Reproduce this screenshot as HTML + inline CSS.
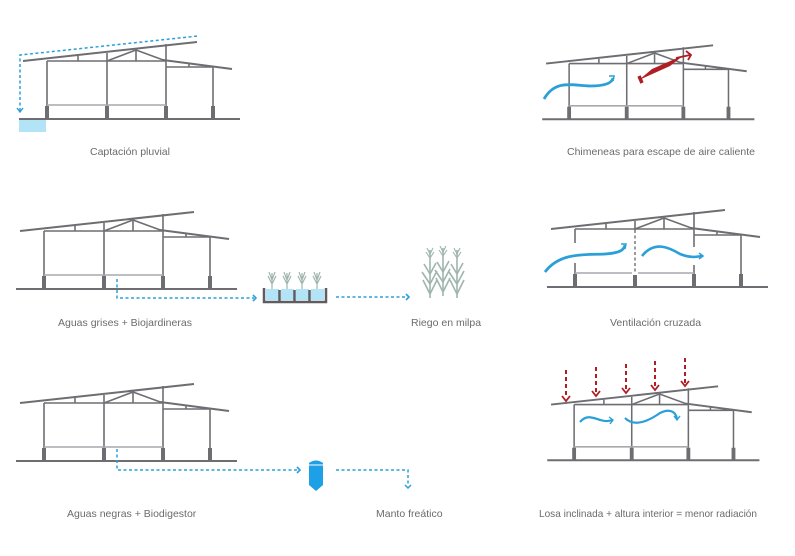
<!DOCTYPE html>
<html><head><meta charset="utf-8"><style>
html,body{margin:0;padding:0;background:#fff;}
svg{display:block;}
text{font-family:"Liberation Sans",sans-serif;font-size:10.5px;fill:#6b6b6b;}
</style></head><body>
<svg width="795" height="556" viewBox="0 0 795 556" xmlns="http://www.w3.org/2000/svg">
<defs>
<g id="bld" stroke="#6e6e72" fill="none" stroke-width="1.6">
  <line x1="23" y1="61" x2="197" y2="42" stroke-width="2"/>
  <line x1="163" y1="60" x2="232" y2="69" stroke-width="2"/>
  <line x1="47" y1="61" x2="166" y2="61"/>
  <line x1="166" y1="67" x2="213" y2="67"/>
  <line x1="107" y1="61" x2="136" y2="50"/>
  <line x1="136" y1="50" x2="166" y2="61"/>
  <line x1="136" y1="50" x2="136" y2="61"/>
  <line x1="78" y1="56" x2="78" y2="61"/>
  <line x1="189" y1="64" x2="189" y2="67"/>
  <line x1="47" y1="61" x2="47" y2="119"/>
  <line x1="107" y1="53" x2="107" y2="119"/>
  <line x1="166" y1="44" x2="166" y2="119"/>
  <line x1="213" y1="67" x2="213" y2="119"/>
  <line x1="47" y1="105" x2="166" y2="105" stroke="#a9a9ad"/>
  <line x1="19" y1="119" x2="240" y2="119" stroke-width="2"/>
  <rect x="45" y="106" width="4" height="13" fill="#6e6e72" stroke="none"/>
  <rect x="105" y="106" width="4" height="13" fill="#6e6e72" stroke="none"/>
  <rect x="164" y="106" width="4" height="13" fill="#6e6e72" stroke="none"/>
  <rect x="211" y="106" width="4" height="13" fill="#6e6e72" stroke="none"/>
</g>
<g id="sprout" stroke="#9fb5ad" fill="none" stroke-width="1.2">
  <path d="M0 0 L0 -16 M0 -5 L-4 -13 M0 -5 L4 -13 M0 -9 L-3 -17 M0 -9 L3 -17"/>
</g>
<g id="corn" stroke="#9fb5ad" fill="none" stroke-width="1.6">
  <path d="M0 0 L0 -48"/>
  <path d="M0 -4 L-7 -18 M0 -4 L7 -18 M0 -14 L-8 -26 M0 -14 L7 -27 M0 -24 L-6 -34 M0 -24 L6 -35"/>
  <path d="M0 -40 L-4 -46 M0 -40 L4 -46 M0 -44 L-3 -50 M0 -44 L3 -50" stroke-width="1.1"/>
</g>
</defs>

<!-- Row 1 left -->
<use href="#bld"/>
<rect x="19" y="120" width="27" height="12" fill="#b3e3f7"/>
<path d="M20 111 L20 55 L198 36" stroke="#2a9fd8" stroke-width="1.5" stroke-dasharray="3 2.5" fill="none"/>
<path d="M17 108 L20 112 L23 108" stroke="#2a9fd8" stroke-width="1.4" fill="none"/>
<text x="90" y="155">Captación pluvial</text>

<!-- Row 1 right -->
<use href="#bld" transform="translate(524,5) scale(0.96)"/>
<path d="M544 99 C555 80 570 85 590 86 C605 86 612 83 613 78" stroke="#2a9fd8" stroke-width="2.8" fill="none"/>
<path d="M609 76 L614 76 L613 81" stroke="#2a9fd8" stroke-width="1.6" fill="none"/>
<path d="M639 80 L652 69 L684 55 L670 66 Z" fill="#b01e24"/>
<path d="M639 76 L642 83" stroke="#b01e24" stroke-width="3.5"/>
<path d="M676 58 L690 55" stroke="#b01e24" stroke-width="1.8"/>
<path d="M686 51 L691 55 L688 60" stroke="#b01e24" stroke-width="1.8" fill="none"/>
<text x="567" y="155">Chimeneas para escape de aire caliente</text>

<!-- Row 2 left -->
<use href="#bld" transform="translate(-3,170)"/>
<path d="M117 279 L117 298 L254 298" stroke="#2a9fd8" stroke-width="1.5" stroke-dasharray="3 2.5" fill="none"/>
<path d="M253 295 L256 298 L253 301" stroke="#2a9fd8" stroke-width="1.6" fill="none"/>
<g>
  <rect x="266" y="289" width="13" height="11" fill="#b3e3f7"/>
  <rect x="281" y="289" width="13" height="11" fill="#b3e3f7"/>
  <rect x="296" y="289" width="13" height="11" fill="#b3e3f7"/>
  <rect x="311" y="289" width="13" height="11" fill="#b3e3f7"/>
  <path d="M264 288 L264 302 L326 302 L326 288 M279.5 290 L279.5 302 M294.5 290 L294.5 302 M309.5 290 L309.5 302" stroke="#5e5e62" stroke-width="2.5" fill="none"/>
  <use href="#sprout" transform="translate(272,289)"/>
  <use href="#sprout" transform="translate(287,289)"/>
  <use href="#sprout" transform="translate(302,289)"/>
  <use href="#sprout" transform="translate(317,289)"/>
</g>
<path d="M336 297 L406 297" stroke="#2a9fd8" stroke-width="1.5" stroke-dasharray="3 2.5" fill="none"/>
<path d="M406 294 L409 297 L406 300" stroke="#2a9fd8" stroke-width="1.6" fill="none"/>
<use href="#corn" transform="translate(430,298)"/>
<use href="#corn" transform="translate(443,296)"/>
<use href="#corn" transform="translate(457,298)"/>
<text x="58" y="326">Aguas grises + Biojardineras</text>
<text x="411" y="326">Riego en milpa</text>

<!-- Row 2 right -->
<use href="#bld" transform="translate(528,168)"/>
<rect x="572" y="243" width="6" height="20" fill="#fff"/>
<rect x="632" y="230" width="6" height="45" fill="#fff"/>
<rect x="690" y="247" width="6" height="18" fill="#fff"/>
<line x1="635" y1="230" x2="635" y2="274" stroke="#6e6e72" stroke-width="1.4" stroke-dasharray="3 2.5"/>
<path d="M545 272 C560 252 585 255 605 254 C620 253 624 250 625 245" stroke="#2a9fd8" stroke-width="2.8" fill="none"/>
<path d="M621 244 L626 244 L625 249" stroke="#2a9fd8" stroke-width="1.5" fill="none"/>
<path d="M642 256 C655 240 670 248 680 254 C690 258 696 257 702 256" stroke="#2a9fd8" stroke-width="2.6" fill="none"/>
<path d="M699 253 L703 256 L699 259" stroke="#2a9fd8" stroke-width="1.5" fill="none"/>
<text x="610" y="326">Ventilación cruzada</text>

<!-- Row 3 left -->
<use href="#bld" transform="translate(-3,342)"/>
<path d="M117 449 L117 470 L298 470" stroke="#2a9fd8" stroke-width="1.5" stroke-dasharray="3 2.5" fill="none"/>
<path d="M297 467 L300 470 L297 473" stroke="#2a9fd8" stroke-width="1.6" fill="none"/>
<path d="M309 463 Q316 458 323 463 L323 485 L316 491 L309 485 Z" fill="#1ea0e6"/>
<line x1="309" y1="465" x2="323" y2="465" stroke="#fff" stroke-width="1"/>
<path d="M336 470 L408 470 L408 486" stroke="#2a9fd8" stroke-width="1.5" stroke-dasharray="3 2.5" fill="none"/>
<path d="M405 485 L408 488 L411 485" stroke="#2a9fd8" stroke-width="1.5" fill="none"/>
<text x="67" y="517">Aguas negras + Biodigestor</text>
<text x="376" y="517">Manto freático</text>

<!-- Row 3 right -->
<use href="#bld" transform="translate(529,346) scale(0.96)"/>
<g stroke="#b01e24" stroke-width="2" stroke-dasharray="4 3" fill="none">
  <line x1="566" y1="370" x2="566" y2="398"/>
  <line x1="596" y1="367" x2="596" y2="393"/>
  <line x1="626" y1="364" x2="626" y2="390"/>
  <line x1="655" y1="361" x2="655" y2="387"/>
  <line x1="685" y1="358" x2="685" y2="383"/>
</g>
<g stroke="#b01e24" stroke-width="1.8" fill="none">
  <path d="M562 396 L566 401 L570 396"/>
  <path d="M592 391 L596 396 L600 391"/>
  <path d="M622 388 L626 393 L630 388"/>
  <path d="M651 385 L655 390 L659 385"/>
  <path d="M681 381 L685 386 L689 381"/>
</g>
<path d="M580 422 C590 410 600 425 612 420" stroke="#2a9fd8" stroke-width="2.2" fill="none"/>
<path d="M609 417 L613 420 L610 424" stroke="#2a9fd8" stroke-width="1.4" fill="none"/>
<path d="M625 418 C635 428 650 420 660 413 C670 408 676 412 677 419" stroke="#2a9fd8" stroke-width="2.2" fill="none"/>
<path d="M674 416 L677 420 L680 416" stroke="#2a9fd8" stroke-width="1.4" fill="none"/>
<text x="539" y="517" textLength="218" lengthAdjust="spacingAndGlyphs">Losa inclinada + altura interior = menor radiación</text>
</svg>
</body></html>
